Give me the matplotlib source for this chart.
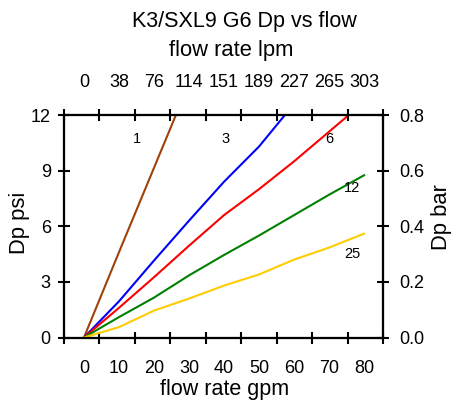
import numpy as np
import matplotlib
matplotlib.use("Agg")
import matplotlib.pyplot as plt

plt.rcParams["font.family"] = ["Liberation Sans", "DejaVu Sans"]

# flow in gpm, pressure drop in psi, one curve per element rating
flow_gpm = [0, 10, 20, 30, 40, 50, 60, 70, 80]
dp_1 = [0, 4.6, 9.15, 13.7]
flow_1 = [0, 10, 20, 30]
dp_3 = [0, 1.95, 4.15, 6.3, 8.4, 10.3, 12.6]
flow_3 = [0, 10, 20, 30, 40, 50, 60]
dp_6 = [0, 1.6, 3.25, 4.95, 6.6, 8.0, 9.5, 11.1, 12.7]
dp_12 = [0, 1.1, 2.15, 3.35, 4.45, 5.5, 6.6, 7.7, 8.75]
dp_25 = [0, 0.56, 1.45, 2.1, 2.8, 3.4, 4.2, 4.85, 5.6]

curve_names = ["1", "3", "6", "12", "25"]
curve_colors = ["#a0400a", "#0000ff", "#ff0000", "#008000", "#ffcc00"]
label_x = [15.1, 40.3, 70.0, 76.6, 76.6]
label_y = [10.7, 10.7, 10.7, 8.05, 4.49]

gpm_ticks = [0, 10, 20, 30, 40, 50, 60, 70, 80]
lpm_labels = ["0", "38", "76", "114", "151", "189", "227", "265", "303"]
psi_ticks = [0, 3, 6, 9, 12]
bar_ticks = [0.0, 0.2, 0.4, 0.6, 0.8]

fig = plt.figure(figsize=(4.53, 4.0), dpi=100)
ax = fig.add_axes([64 / 453, 1 - 337.5 / 400, 319 / 453, 222.5 / 400])

xlim = (-5.7, 85.4)
series = [(flow_1, dp_1), (flow_3, dp_3), (flow_gpm, dp_6),
          (flow_gpm, dp_12), (flow_gpm, dp_25)]
for (xs, ys), c in zip(series, curve_colors):
    ax.plot(xs, ys, color=c, lw=1.5)
for name, x, y in zip(curve_names, label_x, label_y):
    ax.text(x, y, name, fontsize=10.5, ha="center", va="center")

ax.set_xlim(*xlim)
ax.set_ylim(0, 12)
marks = np.linspace(xlim[0], xlim[1], 10)

ax.set_xticks(gpm_ticks)
ax.set_xticks(marks, minor=True)
ax.tick_params(axis="x", which="major", length=0, labelsize=13, pad=16)
ax.tick_params(axis="x", which="minor", direction="inout", length=8, width=1.5)
ax.set_yticks(psi_ticks)
ax.tick_params(axis="y", direction="inout", length=9, width=1.5, labelsize=13, pad=5)

top = ax.twiny()
top.set_xlim(*xlim)
top.set_xticks(gpm_ticks)
top.set_xticklabels(lpm_labels)
top.set_xticks(marks, minor=True)
top.tick_params(axis="x", which="major", length=0, labelsize=13, pad=17)
top.tick_params(axis="x", which="minor", direction="inout", length=8, width=1.5)

right = ax.twinx()
right.set_ylim(0, 0.8)
right.set_yticks(bar_ticks)
right.set_yticklabels([f"{v:.1f}" for v in bar_ticks])
right.tick_params(axis="y", direction="inout", length=9, width=1.5, labelsize=13, pad=7.5)
for a in (ax, top, right):
    for s in a.spines.values():
        s.set_linewidth(1.5)

fig.text(244.7 / 453, 1 - 27 / 400, "K3/SXL9 G6 Dp vs flow", fontsize=15.5,
         ha="center", va="baseline")
fig.text(231 / 453, 1 - 56 / 400, "flow rate lpm", fontsize=15.8,
         ha="center", va="baseline")
fig.text(224.7 / 453, 1 - 395 / 400, "flow rate gpm", fontsize=15.5,
         ha="center", va="baseline")
fig.text(20 / 453, 1 - 223 / 400, "Dp psi", fontsize=15.8, rotation=90,
         ha="center", va="center")
fig.text(442 / 453, 1 - 217 / 400, "Dp bar", fontsize=15.8, rotation=90,
         ha="center", va="center")

fig.savefig("out.png", dpi=100)
